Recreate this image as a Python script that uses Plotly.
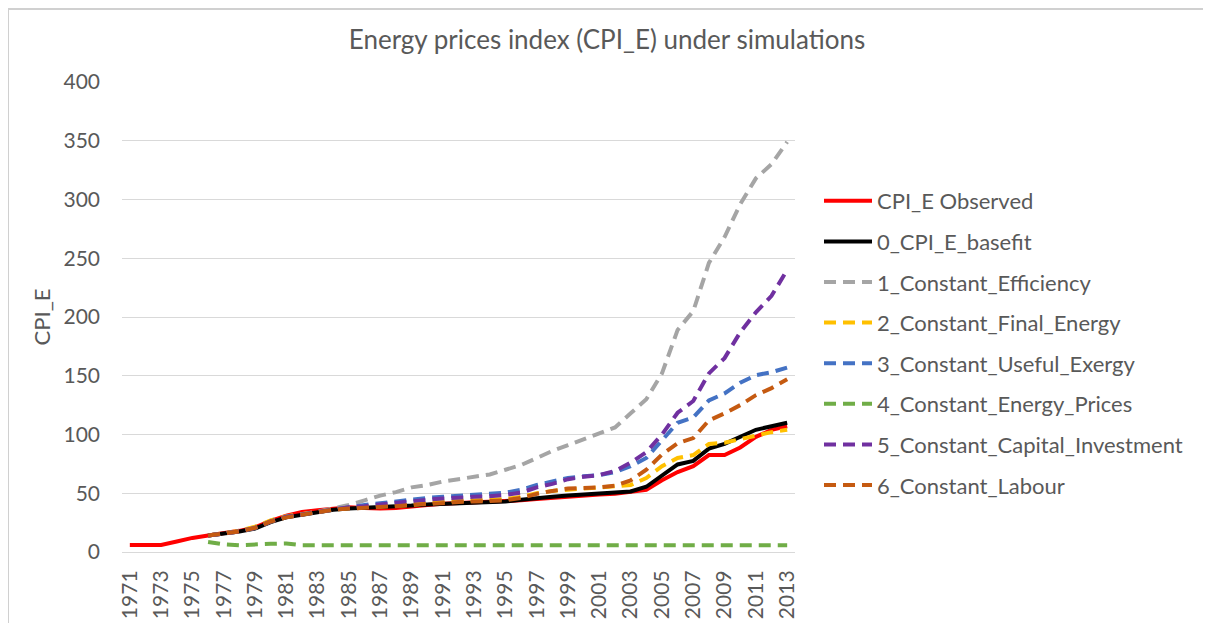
import plotly.graph_objects as go

years = list(range(1971, 2014))

cpi_observed = [6, 6, 6, 9, 12, 14, 16, 18, 21, 26.5, 31, 34, 35.5, 37, 38, 37.5, 37, 37.5, 39, 40,
                41, 41.5, 42, 42.5, 43, 44, 45, 46, 47, 48.5, 49, 49.5, 51, 53, 61, 68, 73, 82.5,
                82.5, 89, 98, 104, 107]

sim_years = list(range(1976, 2014))

basefit = [14, 15.5, 17.5, 20, 25.5, 29.5, 31.5, 34, 36, 37, 37.5, 38, 38.5, 39.5, 40.5, 41, 41,
           41.5, 42, 43, 44.5, 46, 47, 48, 49, 49.5, 50.5, 51.5, 55.5, 64.5, 74.5, 77.5, 88, 92,
           98, 104, 107, 110]

const_efficiency = [14, 15.5, 17.5, 20.5, 26, 30, 32, 34.5, 37, 40, 44, 48, 51, 55, 57, 60, 62, 64,
                    66, 70, 74, 80, 86, 91, 96, 100.5, 106, 118, 130, 152, 189, 205, 246, 268, 296,
                    318, 330, 349]

const_final_energy = [14, 16, 18, 21.5, 27, 30.5, 32.5, 34.5, 36, 37.5, 38, 39, 39.5, 40, 41.5, 43,
                      43.5, 44, 44.5, 45, 47, 50, 52, 53, 54, 54.5, 55.5, 57, 63, 73, 80, 82.5, 92,
                      93, 96, 99, 102, 104]

const_useful_exergy = [14, 15.5, 17.5, 20.5, 26, 30, 32, 34.5, 36.5, 38.5, 40, 41.5, 43, 45, 46,
                       47, 48, 48.5, 49.5, 50.5, 53, 57, 60, 63, 64.5, 65.5, 68, 73, 80, 95, 110,
                       114.5, 129, 135, 144, 150.5, 153, 157]

const_energy_prices = [8.5, 6.5, 5.8, 6, 7, 7.3, 5.8, 5.8, 5.8, 5.8, 5.8, 5.8, 5.8, 5.8, 5.8, 5.8,
                       5.8, 5.8, 5.8, 5.8, 5.8, 5.8, 5.8, 5.8, 5.8, 5.8, 5.8, 5.8, 5.8, 5.8, 5.8,
                       5.8, 5.8, 5.8, 5.8, 5.8, 5.8, 5.8]

const_capital = [14, 15.5, 17.5, 20.5, 26, 30, 32, 34.5, 36.5, 38, 39, 40.5, 42, 43.5, 44.5, 45.5,
                 46.5, 47, 47.5, 48.5, 50.5, 55, 58, 62, 64, 65.5, 69, 76, 85, 100, 118.5, 128.5,
                 152, 165, 187, 204, 218, 240]

const_labour = [14, 15.5, 17.5, 20.5, 26, 29.5, 31.5, 34, 36, 37, 37.5, 38.5, 39, 40, 41, 42, 42.5,
                43, 43.5, 44, 46, 49.5, 52, 54, 54.5, 55, 56.5, 61, 70, 83, 92.5, 97, 112, 118,
                125, 133.5, 139.5, 147]

tick_years = list(range(1971, 2014, 2))
y_ticks = [0, 50, 100, 150, 200, 250, 300, 350, 400]

series = [
    ("CPI_E Observed", years, cpi_observed, "#FF0000", "solid"),
    ("0_CPI_E_basefit", sim_years, basefit, "#000000", "solid"),
    ("1_Constant_Efficiency", sim_years, const_efficiency, "#A5A5A5", "12px,7px"),
    ("2_Constant_Final_Energy", sim_years, const_final_energy, "#FFC000", "12px,7px"),
    ("3_Constant_Useful_Exergy", sim_years, const_useful_exergy, "#4472C4", "12px,7px"),
    ("4_Constant_Energy_Prices", sim_years, const_energy_prices, "#70AD47", "12px,7px"),
    ("5_Constant_Capital_Investment", sim_years, const_capital, "#7030A0", "12px,7px"),
    ("6_Constant_Labour", sim_years, const_labour, "#C55A11", "12px,7px"),
]

fig = go.Figure()
for i, (name, xs, ys, color, dash) in enumerate(series):
    fig.add_trace(go.Scatter(
        x=xs, y=ys, mode="lines", name=name, legendgroup=f"g{i}",
        line=dict(color=color, width=4, dash=dash),
    ))

font_family = "Lato, 'Open Sans', sans-serif"
txt = "#595959"

# page offset (body margin) and target plot area in screen pixels
OFF = 8
L, R, T, B = 122, 795, 82, 552
W, H = 1211, 623
pw, ph = R - L, B - T

def px(xp):
    return (xp - L) / pw

def py(yp):
    return (B - yp) / ph

fig.update_layout(
    width=W, height=H,
    margin=dict(l=L - OFF, r=W - R + OFF, t=T - OFF, b=H - B + OFF),
    paper_bgcolor="white", plot_bgcolor="white",
    font=dict(family=font_family, color=txt),
    title=dict(text="Energy prices index (CPI_E) under simulations",
               x=(607 - OFF) / W, xref="container", xanchor="center",
               y=1 - (40 - OFF) / H, yref="container", yanchor="middle",
               font=dict(size=26, color=txt, family=font_family)),
    showlegend=True,
    legend=dict(x=px(819), y=py(180), xanchor="left", yanchor="top",
                font=dict(size=22, color=txt, family=font_family),
                tracegroupgap=9, itemwidth=48, bgcolor="rgba(0,0,0,0)"),
    xaxis=dict(range=[1970.5, 2013.5], tickmode="array", tickvals=tick_years,
               ticktext=[str(y) for y in tick_years], tickangle=-90,
               showgrid=False, zeroline=False, showline=True, linecolor="#D9D9D9", linewidth=1,
               ticks="", tickfont=dict(size=21, color=txt, family=font_family),
               ticklabelstandoff=9),
    yaxis=dict(range=[0, 400], tickmode="array", tickvals=y_ticks,
               showgrid=True, gridcolor="#D9D9D9", gridwidth=1, zeroline=False,
               showline=False, ticks="",
               tickfont=dict(size=21, color=txt, family=font_family),
               ticklabelstandoff=21,
               title=dict(text="CPI_E", font=dict(size=22, color=txt, family=font_family),
                          standoff=6)),
    shapes=[dict(type="rect", xref="paper", yref="paper",
                 x0=px(8), x1=px(1208), y0=py(660), y1=py(9),
                 line=dict(color="#D0D0D0", width=2), fillcolor="rgba(0,0,0,0)",
                 layer="below")],
)

fig.write_html("out.html")
